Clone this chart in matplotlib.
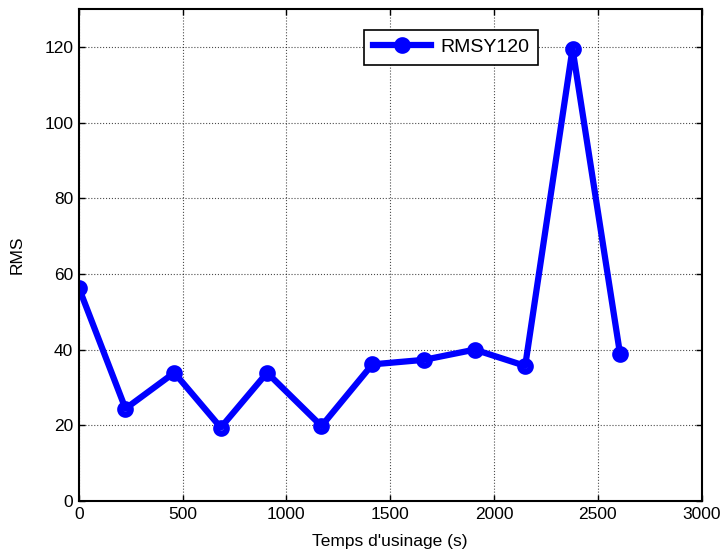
import matplotlib.pyplot as plt

plt.rcParams['font.family'] = ['Liberation Sans', 'DejaVu Sans']

# temps d'usinage (s) et valeurs RMS
temps = [0, 225, 460, 684, 907, 1169, 1414, 1663, 1907, 2150, 2378, 2607]
rms = [56.4, 24.4, 33.9, 19.4, 33.9, 19.8, 36.1, 37.3, 40.0, 35.7, 119.5, 38.8]

x_ticks = [0, 500, 1000, 1500, 2000, 2500, 3000]
y_ticks = [0, 20, 40, 60, 80, 100, 120]

fig = plt.figure(figsize=(7.26, 5.59), dpi=100)
ax = fig.add_axes([0.1085, 0.1038, 0.858, 0.880])

ax.plot(temps, rms, color='b', linewidth=4.5, marker='o', markersize=7.5,
        markeredgewidth=4.5, markerfacecolor='none', markeredgecolor='b',
        label='RMSY120')

ax.set_xlim(0, 3000)
ax.set_ylim(0, 130)
ax.set_xticks(x_ticks)
ax.set_yticks(y_ticks)
ax.grid(True, color='k', linestyle=':', linewidth=0.8, alpha=0.7)

ax.tick_params(direction='in', top=True, right=True, length=4, width=1,
               labelsize=12.5, pad=4)
for s in ax.spines.values():
    s.set_linewidth(1.5)

ax.set_xlabel("Temps d'usinage (s)", fontsize=12.5, labelpad=9)
ax.set_ylabel("RMS", fontsize=12.5, labelpad=14)

leg = ax.legend(loc='upper left', bbox_to_anchor=(0.442, 0.978), fontsize=14,
                fancybox=False, framealpha=1, edgecolor='k',
                handlelength=3.0, borderpad=0.45, handletextpad=0.5)
leg.get_frame().set_linewidth(1.2)
leg.legend_handles[0].set_markerfacecolor('b')

fig.savefig('out.png', dpi=100)
